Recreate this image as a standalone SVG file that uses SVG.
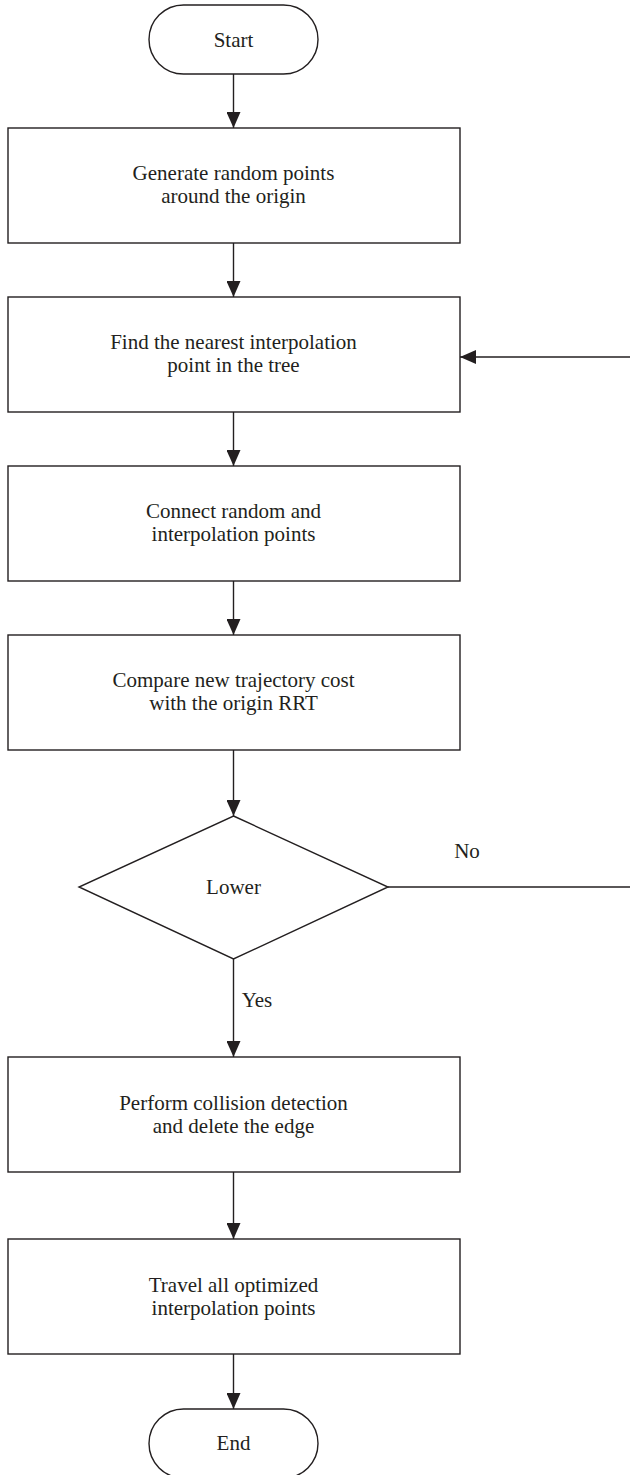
<svg xmlns="http://www.w3.org/2000/svg" width="630" height="1475" viewBox="0 0 630 1475">
<style>
.shape{fill:#fff;stroke:#231f20;stroke-width:1.4}
.edge{fill:none;stroke:#231f20;stroke-width:1.4}
text{font-family:"Liberation Serif","Times New Roman",serif;font-size:21px;fill:#231f20;text-anchor:middle;dominant-baseline:central}
</style>
<defs>
<marker id="arr" viewBox="0 0 16 14" refX="16" refY="7" markerWidth="16" markerHeight="14" markerUnits="userSpaceOnUse" orient="auto">
<path d="M0,0 L16,7 L0,14 Z" fill="#231f20"/>
</marker>
</defs>
<g id="connectors">
<line class="edge" x1="233.5" y1="74" x2="233.5" y2="128" marker-end="url(#arr)"/>
<line class="edge" x1="233.5" y1="243" x2="233.5" y2="297" marker-end="url(#arr)"/>
<line class="edge" x1="233.5" y1="412" x2="233.5" y2="466" marker-end="url(#arr)"/>
<line class="edge" x1="233.5" y1="581" x2="233.5" y2="635" marker-end="url(#arr)"/>
<line class="edge" x1="233.5" y1="750" x2="233.5" y2="816" marker-end="url(#arr)"/>
<line class="edge" x1="233.5" y1="959" x2="233.5" y2="1057" marker-end="url(#arr)"/>
<line class="edge" x1="233.5" y1="1172" x2="233.5" y2="1239" marker-end="url(#arr)"/>
<line class="edge" x1="233.5" y1="1354" x2="233.5" y2="1409" marker-end="url(#arr)"/>
<line class="edge" x1="388" y1="887" x2="630" y2="887"/>
<line class="edge" x1="630" y1="357" x2="460" y2="357" marker-end="url(#arr)"/>
<text x="467" y="851">No</text>
<text x="257" y="1000">Yes</text>
</g>
<g id="start">
<rect class="shape" x="149" y="5" width="169" height="69" rx="34.5"/>
<text x="233.5" y="40">Start</text>
</g>
<g id="generate">
<rect class="shape" x="8" y="128" width="452" height="115"/>
<text x="233.5" y="173">Generate random points</text>
<text x="233.5" y="196">around the origin</text>
</g>
<g id="find">
<rect class="shape" x="8" y="297" width="452" height="115"/>
<text x="233.5" y="342">Find the nearest interpolation</text>
<text x="233.5" y="365">point in the tree</text>
</g>
<g id="connect">
<rect class="shape" x="8" y="466" width="452" height="115"/>
<text x="233.5" y="511">Connect random and</text>
<text x="233.5" y="534">interpolation points</text>
</g>
<g id="compare">
<rect class="shape" x="8" y="635" width="452" height="115"/>
<text x="233.5" y="680">Compare new trajectory cost</text>
<text x="233.5" y="703">with the origin RRT</text>
</g>
<g id="lower">
<polygon class="shape" points="233.5,816 388,887 233.5,959 79,887"/>
<text x="233.5" y="887">Lower</text>
</g>
<g id="collision">
<rect class="shape" x="8" y="1057" width="452" height="115"/>
<text x="233.5" y="1103">Perform collision detection</text>
<text x="233.5" y="1126">and delete the edge</text>
</g>
<g id="travel">
<rect class="shape" x="8" y="1239" width="452" height="115"/>
<text x="233.5" y="1285">Travel all optimized</text>
<text x="233.5" y="1308">interpolation points</text>
</g>
<g id="end">
<rect class="shape" x="149" y="1409" width="169" height="69" rx="34.5"/>
<text x="233.5" y="1443">End</text>
</g>
</svg>
